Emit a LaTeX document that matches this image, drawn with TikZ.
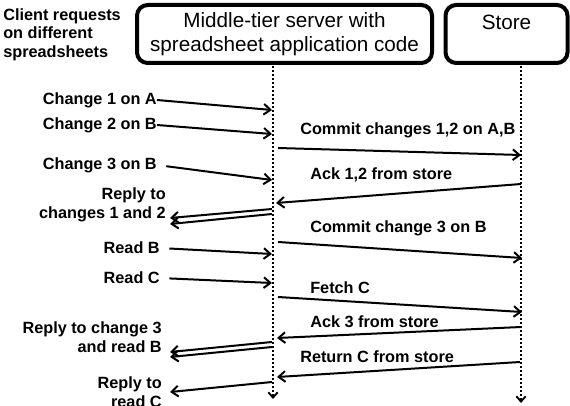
\documentclass[tikz,border=0pt]{standalone}
\usepackage{fontspec}
\setmainfont{Liberation Sans}
\usetikzlibrary{arrows.meta}
\tikzset{
    party/.style={draw, line width=3pt, rounded corners=8pt, align=center, inner sep=0pt,
      font=\fontsize{15.5}{17.5}\selectfont},
    lbl/.style={font=\bfseries\fontsize{12.2}{14}\selectfont, inner sep=0pt, align=right},
    msg/.style={-{Straight Barb[length=5pt,width=8pt]}, line width=1.5pt},
    life/.style={line width=2pt, dash pattern=on 1.8pt off 1.2pt,
      -{Straight Barb[length=4pt,width=7pt,line width=1.4pt]}}
}

\begin{document}
\begin{tikzpicture}[x=0.75pt, y=-0.75pt]
  \useasboundingbox (0,0) rectangle (570,406);
  % the two servers
  \node [party, minimum width=295*0.75pt, minimum height=58*0.75pt] (mid) at (284.5,34)
    {Middle-tier server with\\spreadsheet application code};
  \node [party, minimum width=122*0.75pt, minimum height=58*0.75pt] (store) at (506.5,34)
    {Store\\\mbox{}};
  \node [lbl, anchor=north west, align=left] (clients) at (3,8)
    {Client requests\\on different\\spreadsheets};
  % lifelines
  \coordinate (midtop) at (273,66);
  \coordinate (midend) at (273,399);
  \coordinate (sttop) at (521,66);
  \coordinate (stend) at (521,403);
  \draw [life] (midtop) -- (midend);
  \draw [life] (sttop) -- (stend);
  % client requests
  \node [lbl, anchor=east] (ch1) at (157,100) {Change 1 on A};
  \node [lbl, anchor=east] (ch2) at (157,125) {Change 2 on B};
  \node [lbl, anchor=east] (ch3) at (157,165) {Change 3 on B};
  \node [lbl, anchor=east] (rep12) at (166,205) {Reply to\\changes 1 and 2};
  \node [lbl, anchor=east] (rdb) at (160,248) {Read B};
  \node [lbl, anchor=east] (rdc) at (160,278) {Read C};
  \node [lbl, anchor=east] (rep3) at (162,337) {Reply to change 3\\and read B};
  \node [lbl, anchor=east] (repc) at (162,392) {Reply to\\read C};
  % store messages
  \node [lbl, anchor=west] (commit12) at (300,130) {Commit changes 1,2 on A,B};
  \node [lbl, anchor=west] (ack12) at (310,175) {Ack 1,2 from store};
  \node [lbl, anchor=west] (commit3) at (310,228) {Commit change 3 on B};
  \node [lbl, anchor=west] (fetch) at (310,288) {Fetch C};
  \node [lbl, anchor=west] (ack3) at (310,322) {Ack 3 from store};
  \node [lbl, anchor=west] (retc) at (300,357) {Return C from store};
  % points on the lifelines
  \coordinate (m1) at (272,110);
  \coordinate (m2) at (272,134);
  \coordinate (m3) at (272,180);
  \coordinate (m4) at (272,254);
  \coordinate (m5) at (272,283);
  \coordinate (r1a) at (272,209);
  \coordinate (r1b) at (272,214);
  \coordinate (r2a) at (272,342);
  \coordinate (r2b) at (272,347);
  \coordinate (r3) at (272,382);
  \coordinate (p1) at (170,218);
  \coordinate (p2) at (170,224);
  \coordinate (p3) at (170,352);
  \coordinate (p4) at (170,357);
  \coordinate (p5) at (170,392);
  \coordinate (s1a) at (278,148);
  \coordinate (s1b) at (521,155);
  \coordinate (s2a) at (521,184);
  \coordinate (s2b) at (276,203);
  \coordinate (s3a) at (278,242);
  \coordinate (s3b) at (522,258);
  \coordinate (s4a) at (278,297);
  \coordinate (s4b) at (522,312);
  \coordinate (s5a) at (521,327);
  \coordinate (s5b) at (277,338);
  \coordinate (s6a) at (520,362);
  \coordinate (s6b) at (277,377);
  % arrows
  \draw [msg] (ch1.east) -- (m1);
  \draw [msg] (ch2.east) -- (m2);
  \draw [msg, shorten <=7pt] (ch3.east) -- (m3);
  \draw [msg] (r1a) -- (p1);
  \draw [msg] (r1b) -- (p2);
  \draw [msg, shorten <=7pt] (rdb.east) -- (m4);
  \draw [msg, shorten <=7pt] (rdc.east) -- (m5);
  \draw [msg] (r2a) -- (p3);
  \draw [msg] (r2b) -- (p4);
  \draw [msg] (r3) -- (p5);
  \draw [msg] (s1a) -- (s1b);
  \draw [msg] (s2a) -- (s2b);
  \draw [msg] (s3a) -- (s3b);
  \draw [msg] (s4a) -- (s4b);
  \draw [msg] (s5a) -- (s5b);
  \draw [msg] (s6a) -- (s6b);
\end{tikzpicture}
\end{document}
